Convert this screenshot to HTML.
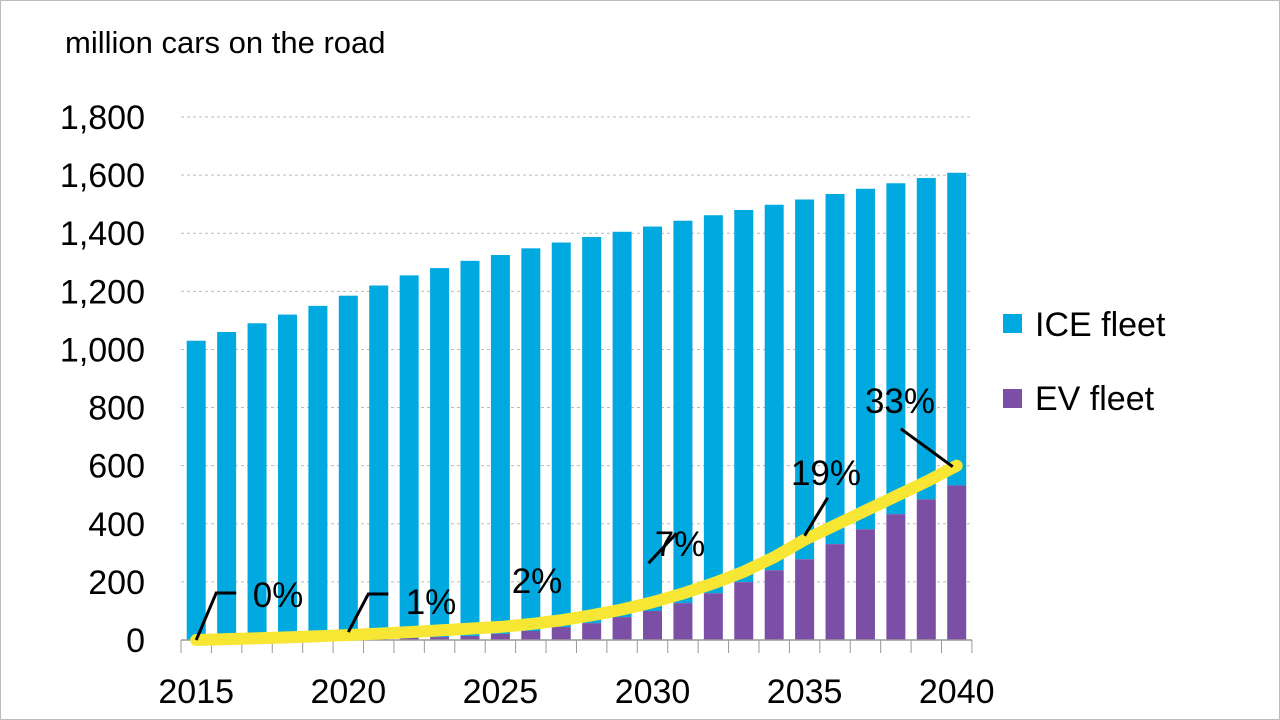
<!DOCTYPE html>
<html><head><meta charset="utf-8"><style>
html,body{margin:0;padding:0;background:#fff}
svg{display:block;font-family:"Liberation Sans",Arial,sans-serif}
</style></head><body>
<svg id="chart" width="1280" height="720" viewBox="0 0 1280 720">
<rect x="0.5" y="0.5" width="1279" height="719" fill="#fff" stroke="#bbb"/>
<text x="65" y="53" font-size="31" fill="#000">million cars on the road</text>
<g id="grid"></g><g id="bars"></g><g id="axis"></g><g id="line"></g><g id="labels"></g>
<g>
<rect x="1003" y="314" width="19" height="19" fill="#00A9E0"/>
<text x="1035" y="336" font-size="34">ICE fleet</text>
<rect x="1003" y="389" width="19" height="19" fill="#7B4FA6"/>
<text x="1035" y="410" font-size="34">EV fleet</text>
</g>
</svg>
<script>
const years=[2015,2016,2017,2018,2019,2020,2021,2022,2023,2024,2025,2026,2027,2028,2029,2030,2031,2032,2033,2034,2035,2036,2037,2038,2039,2040];
const totalFleet=[1030,1060,1090,1120,1150,1185,1220,1255,1280,1305,1325,1348,1368,1387,1405,1423,1443,1462,1480,1498,1516,1535,1553,1572,1590,1608];
const evFleet=[0.3,0.5,1,1,2,3,5,7,10,14,21,31,45,58,79,100,127,161,199,240,278,330,381,433,484,532];
const evLine=[0,3,6,9,13,17,22,27,33,39,45,55,68,85,105,130,160,195,235,285,345,395,445,495,545,600];
const yTicks=[0,200,400,600,800,1000,1200,1400,1600,1800];
const xTickLabels=[2015,2020,2025,2030,2035,2040];
const shareLabels=["0%","1%","2%","7%","19%","33%"];
const NS="http://www.w3.org/2000/svg";
const x0=181,step=30.42,yBase=640,pxPer=(640-117)/1800;
const y=v=>yBase-v*pxPer;
const xc=i=>x0+step*(i+0.5);
function mk(p,tag,a){const e=document.createElementNS(NS,tag);for(const k in a)e.setAttribute(k,a[k]);p.appendChild(e);return e;}
const grid=document.getElementById('grid'),bars=document.getElementById('bars'),axis=document.getElementById('axis'),line=document.getElementById('line'),labels=document.getElementById('labels');
yTicks.forEach(t=>{
 if(t>0){const g=mk(grid,'line',{x1:x0,x2:972,y1:y(t),y2:y(t),stroke:'#bbb','stroke-dasharray':'3,3','stroke-width':1});
 
 }
 const tx=mk(axis,'text',{x:145,y:y(t)+12,'font-size':34,'text-anchor':'end'});tx.textContent=t.toLocaleString('en-US');
 
 
});
years.forEach((yr,i)=>{
 const bw=19,bx=xc(i)-bw/2;
 const ice=mk(bars,'rect',{x:bx,y:y(totalFleet[i]),width:bw,height:y(evFleet[i])-y(totalFleet[i]),fill:'#00A9E0'});
 
 
 const ev=mk(bars,'rect',{x:bx,y:y(evFleet[i]),width:bw,height:yBase-y(evFleet[i]),fill:'#7B4FA6'});
 
 
});
const ax=mk(axis,'line',{x1:x0,x2:x0+step*26,y1:yBase,y2:yBase,stroke:'#999','stroke-width':1.5});


for(let i=0;i<=26;i++){const tk=mk(axis,'line',{x1:x0+step*i,x2:x0+step*i,y1:yBase,y2:yBase+13,stroke:'#999','stroke-width':1});
 
 }
xTickLabels.forEach(yr=>{const i=years.indexOf(yr);const t=mk(axis,'text',{x:xc(i),y:703,'font-size':34,'text-anchor':'middle'});t.textContent=yr;
 
 });
const pts=evLine.map((v,i)=>[xc(i),y(v)]);
const pl=mk(line,'polyline',{points:pts.map(p=>p.join(',')).join(' '),fill:'none',stroke:'#F7E633','stroke-width':12,'stroke-linecap':'round','stroke-linejoin':'round'});


// share labels at 2015,2020,2025,2030,2035,2040
const lblPos=[[278,607],[431,614],[537,593],[680,556],[826,485],[900,413]];
const leaders=[[[0,0],[20,-47],[40,-47]],[[0,-3],[20,-41],[40,-41]],null,[[-4,-39],[24,-69]],[[0,-4],[23,-42]],[[-4,1],[-56,-37]]];
xTickLabels.forEach((yr,k)=>{
 const i=years.indexOf(yr);const px=xc(i),py=y(evLine[i]);
 if(leaders[k]){const l=mk(labels,'polyline',{points:leaders[k].map(p=>(px+p[0])+','+(py+p[1])).join(' '),fill:'none',stroke:'#000','stroke-width':3});
  
  }
 const t=mk(labels,'text',{x:lblPos[k][0],y:lblPos[k][1],'font-size':35,'text-anchor':'middle'});t.textContent=shareLabels[k];
 
 
});
</script>
</body></html>
